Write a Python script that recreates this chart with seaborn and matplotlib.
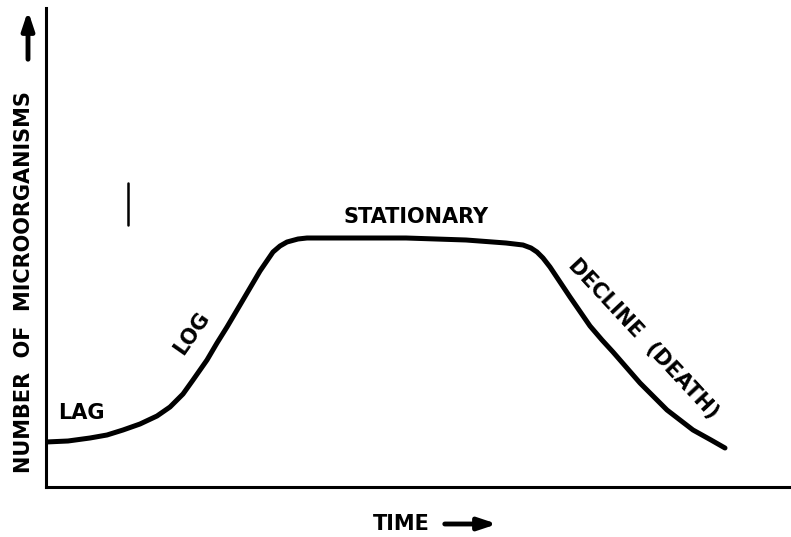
import matplotlib
matplotlib.use("Agg")
import matplotlib.pyplot as plt
import seaborn as sns
import pandas as pd

# Growth curve (time, number) in arbitrary units
time = [0, 22, 44, 61, 77, 94, 111, 124, 137, 147, 161, 171, 181, 194, 214, 227,
        234, 241, 252, 261, 314, 360, 420, 460, 477, 485, 491, 497, 504, 524,
        544, 556, 567, 594, 621, 647, 665, 679]
count = [45, 46, 49, 52, 57, 63, 71, 80, 93, 107, 127, 144, 160, 182, 216, 235,
         241, 245, 248, 249, 249, 249, 247, 244, 242, 239, 235, 229, 220, 190,
         161, 147, 135, 104, 77, 57, 47, 39]

phase_labels = ["LAG", "LOG", "STATIONARY", "DECLINE  (DEATH)"]

sns.set_theme(style="white")
plt.rcParams['font.family'] = ['DejaVu Sans']

fig = plt.figure(figsize=(7.91, 5.37), dpi=100)
ax = fig.add_axes([46/791, 50/537, 1 - 46/791, 479/537])
df = pd.DataFrame({"time": time, "count": count})
sns.lineplot(data=df, x="time", y="count", ax=ax, color="black", linewidth=3.6,
             sort=False, solid_joinstyle="round", solid_capstyle="round")
ax.set_xlim(0, 745)
ax.set_ylim(0, 479)
ax.set_xticks([])
ax.set_yticks([])
ax.set_xlabel("")
ax.set_ylabel("")
for s in ["top", "right"]:
    ax.spines[s].set_visible(False)
for s in ["left", "bottom"]:
    ax.spines[s].set_color("black")
    ax.spines[s].set_linewidth(2.2)

fs = 15
kw = dict(fontsize=fs, fontweight="bold", color="black")
ax.text(12, 74, phase_labels[0], ha="left", va="center", **kw)
ax.text(146, 154, phase_labels[1], ha="center", va="center", rotation=55, **kw)
ax.text(370, 270, phase_labels[2], ha="center", va="center", **kw)
ax.text(597, 148, phase_labels[3], ha="center", va="center", rotation=-47, **kw)

# small stray mark
ax.plot([82, 82], [262, 304], color="black", lw=1.8)

# axis labels as figure text
fig.text(24/791, 1 - 282/537, "NUMBER  OF  MICROORGANISMS", rotation=90,
         ha="center", va="center", **kw)
fig.text(401/791, 1 - 524/537, "TIME", ha="center", va="center", **kw)
ap = dict(arrowstyle="-|>,head_length=0.9,head_width=0.3", color="black", lw=3.5)
ax.annotate("", xy=(500/791, 1 - 524/537), xytext=(442/791, 1 - 524/537),
            xycoords="figure fraction", textcoords="figure fraction",
            arrowprops=ap, annotation_clip=False)
ax.annotate("", xy=(28/791, 1 - 8/537), xytext=(28/791, 1 - 62/537),
            xycoords="figure fraction", textcoords="figure fraction",
            arrowprops=ap, annotation_clip=False)

fig.savefig("out.png", dpi=100, facecolor="white")
